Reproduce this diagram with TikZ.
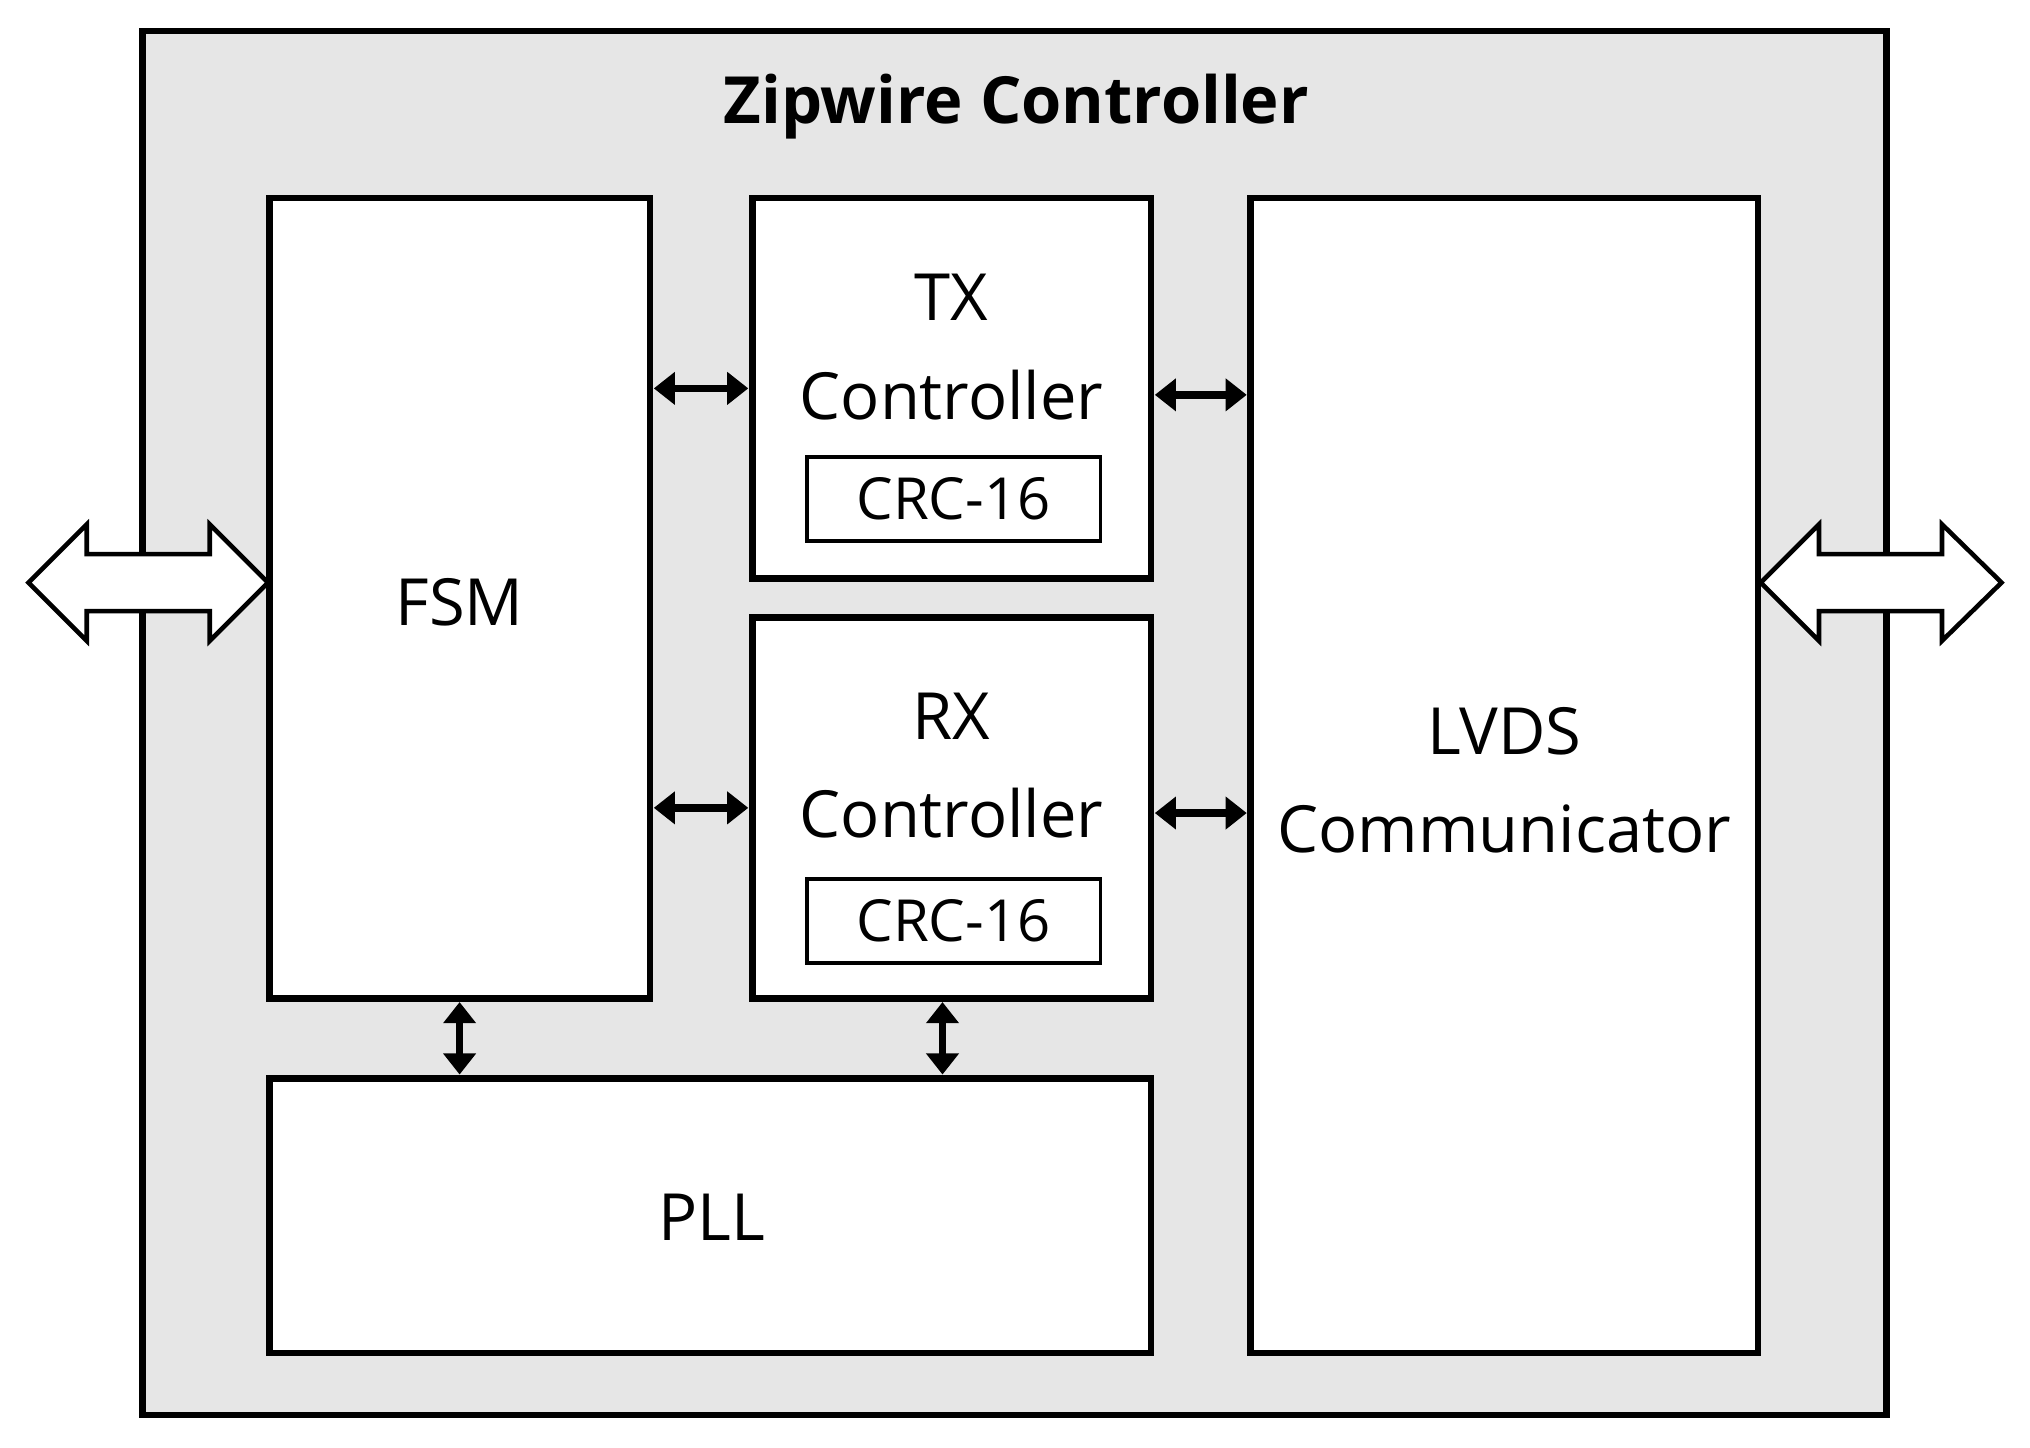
\documentclass[tikz,border=0pt]{standalone}
\usepackage{fontspec}
\setmainfont{Open Sans}
\usetikzlibrary{fit,arrows.meta}
\begin{document}
\begin{tikzpicture}[x=0.012946cm,y=-0.012946cm,
 box/.style={draw,line width=1.9pt,fill=white,inner sep=0pt},
 crc/.style={draw,line width=1.1pt,fill=white,inner sep=0pt},
 lbl/.style={font=\fontsize{18.5}{22}\selectfont},
 small/.style={font=\fontsize{16.5}{20}\selectfont},
 dbl/.style={line width=2.2pt,{Triangle[length=6pt,width=9pt]}-{Triangle[length=6pt,width=9pt]}},
 hollow/.style={draw,line width=1.3pt,fill=white,line join=miter}]
\useasboundingbox (0,0) rectangle (1568,1118);
\node (outer) [box,fill={rgb,255:red,230;green,230;blue,230},fit={(110,24)(1457,1093)}] {};
\node (title) at (785,82) [font=\bfseries\fontsize{18.5}{22}\selectfont] {Zipwire Controller};
\draw[hollow] (22,450) -- (67,405) -- (67,428) -- (162,428) -- (162,405) -- (207,450) -- (162,495) -- (162,472) -- (67,472) -- (67,495) -- cycle;
\draw[hollow] (1360,450) -- (1405,405) -- (1405,428) -- (1500,428) -- (1500,405) -- (1546,450) -- (1500,495) -- (1500,472) -- (1405,472) -- (1405,495) -- cycle;
\node (fsm) [box,fit={(208,153)(502,771)}] {};
\node (tx) [box,fit={(581,153)(889,447)}] {};
\node (rx) [box,fit={(581,477)(889,771)}] {};
\node (lvds) [box,fit={(966,153)(1358,1045)}] {};
\node (pll) [box,fit={(208,833)(889,1045)}] {};
\node (txcrc) [crc,fit={(623,353)(850,418)}] {};
\node (rxcrc) [crc,fit={(623,679)(850,744)}] {};
\node[lbl] (fsmt) at (355,465) {FSM};
\node[lbl] (txt) at (735,230) {TX};
\node[lbl] (txc) at (735,305) {Controller};
\node[lbl] (rxt) at (735,553) {RX};
\node[lbl] (rxc) at (735,628) {Controller};
\node[small] (txcrct) at (txcrc) {CRC-16};
\node[small] (rxcrct) at (rxcrc) {CRC-16};
\node[lbl] (lvdst) at (1162,565) {LVDS};
\node[lbl] (lvdsc) at (1162,640) {Communicator};
\node[lbl] (pllt) at (550,940) {PLL};
\coordinate (a1) at (505,300); \coordinate (b1) at (578,300);
\coordinate (a2) at (892,305); \coordinate (b2) at (963,305);
\coordinate (a3) at (505,624); \coordinate (b3) at (578,624);
\coordinate (a4) at (892,628); \coordinate (b4) at (963,628);
\coordinate (a5) at (355,774); \coordinate (b5) at (355,830);
\coordinate (a6) at (728,774); \coordinate (b6) at (728,830);
\draw[dbl] (a1) -- (b1);
\draw[dbl] (a2) -- (b2);
\draw[dbl] (a3) -- (b3);
\draw[dbl] (a4) -- (b4);
\draw[dbl] (a5) -- (b5);
\draw[dbl] (a6) -- (b6);
\end{tikzpicture}
\end{document}
